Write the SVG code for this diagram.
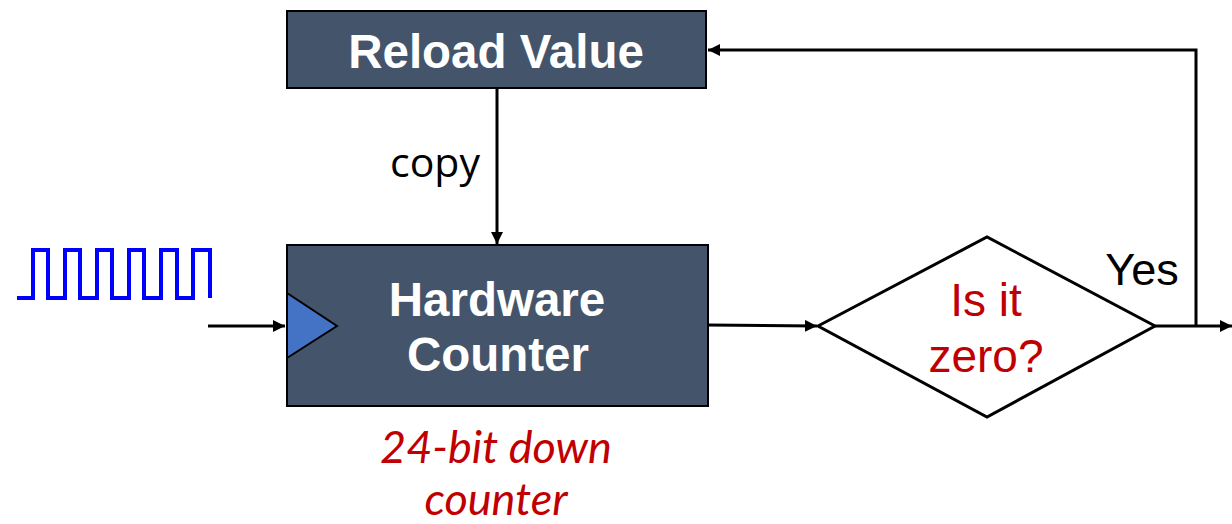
<svg xmlns="http://www.w3.org/2000/svg" width="1232" height="524" viewBox="0 0 1232 524">
<style>
.box{fill:#44546A;stroke:#000;stroke-width:2}
.bt{font-family:"Liberation Sans",Arial,sans-serif;font-weight:bold;font-size:47.5px;fill:#fff;text-anchor:middle}
.conn{fill:none;stroke:#000;stroke-width:3}
.red{font-family:"Liberation Sans",Arial,sans-serif;font-size:46px;fill:#C00000;text-anchor:middle}
.it{font-family:Lato,"Open Sans",sans-serif;font-style:italic;font-size:45px;fill:#C00000;text-anchor:middle}
</style>
<defs>
<marker id="ah" markerWidth="12" markerHeight="12" viewBox="0 0 12 12" refX="12" refY="6" orient="auto" markerUnits="userSpaceOnUse">
<path d="M0,0 L12,6 L0,12 Z" fill="#000"/>
</marker>
</defs>
<g id="clock-wave">
<polyline points="17,298 33,298 33,250 48,250 48,298 65,298 65,250 80,250 80,298 97,298 97,250 112,250 112,298 129,298 129,250 144,250 144,298 161,298 161,250 177,250 177,298 193,298 193,250 210,250 210,298" fill="none" stroke="#0000FF" stroke-width="4"/>
</g>
<g id="reload-value">
<rect class="box" x="287" y="11" width="419" height="77"/>
<text class="bt" x="496" y="68">Reload Value</text>
</g>
<g id="hardware-counter">
<rect class="box" x="287" y="245" width="421" height="161"/>
<polygon points="287,293 337,326 287,358" fill="#4472C4" stroke="#000" stroke-width="2"/>
<text class="bt" x="497" y="316">Hardware</text>
<text class="bt" x="498" y="371">Counter</text>
</g>
<g id="counter-label">
<text class="it" x="496" y="463">24-bit down</text>
<text class="it" x="496" y="515">counter</text>
</g>
<g id="is-zero">
<polygon points="818,326 987,237 1155,326 987,417" fill="#fff" stroke="#000" stroke-width="3"/>
<text class="red" x="986" y="316">Is it</text>
<text class="red" x="986" y="372">zero?</text>
</g>
<g id="connectors">
<line class="conn" x1="208" y1="326" x2="285" y2="326" marker-end="url(#ah)"/>
<line class="conn" x1="497" y1="88" x2="497" y2="244" marker-end="url(#ah)"/>
<line class="conn" x1="708" y1="325" x2="817" y2="326" marker-end="url(#ah)"/>
<line class="conn" x1="1155" y1="326" x2="1232" y2="326" marker-end="url(#ah)"/>
<polyline class="conn" points="1196,326 1196,50 708,50" marker-end="url(#ah)"/>
<text x="435" y="177" font-family="'Open Sans',sans-serif" font-size="41" fill="#000" text-anchor="middle">copy</text>
<text x="1142" y="285" font-family="'Liberation Sans',Arial,sans-serif" font-size="45" fill="#000" text-anchor="middle">Yes</text>
</g>
</svg>
